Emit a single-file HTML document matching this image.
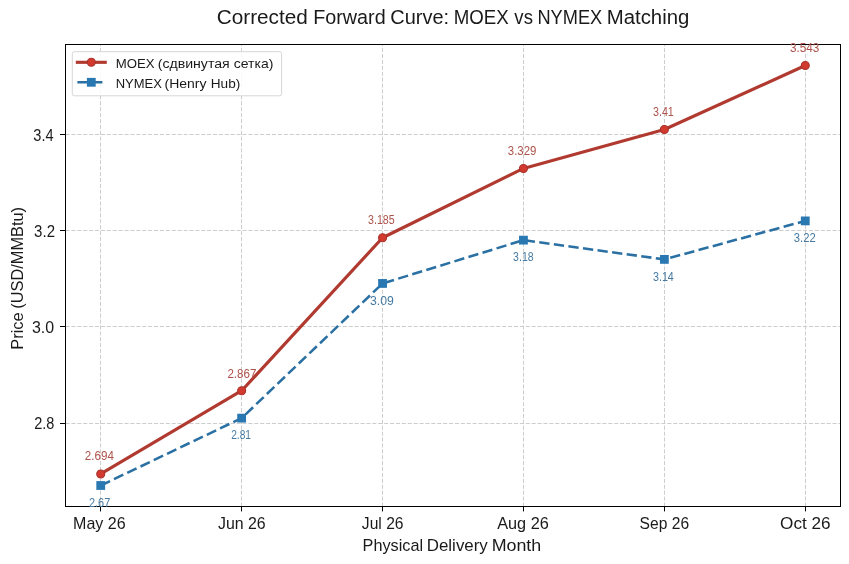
<!DOCTYPE html><html><head><meta charset="utf-8"><style>html,body{margin:0;padding:0;background:#fff;width:849px;height:564px;overflow:hidden}</style></head><body><svg width="849" height="564" viewBox="0 0 849 564" style="display:block">
<rect x="0" y="0" width="849" height="564" fill="#fff"/>
<g class="gfx">
<line x1="100.50" y1="506.5" x2="100.50" y2="44.5" stroke="#cdcdcd" stroke-width="1" stroke-dasharray="4.1 1.8"/>
<line x1="241.50" y1="506.5" x2="241.50" y2="44.5" stroke="#cdcdcd" stroke-width="1" stroke-dasharray="4.1 1.8"/>
<line x1="382.50" y1="506.5" x2="382.50" y2="44.5" stroke="#cdcdcd" stroke-width="1" stroke-dasharray="4.1 1.8"/>
<line x1="523.50" y1="506.5" x2="523.50" y2="44.5" stroke="#cdcdcd" stroke-width="1" stroke-dasharray="4.1 1.8"/>
<line x1="664.50" y1="506.5" x2="664.50" y2="44.5" stroke="#cdcdcd" stroke-width="1" stroke-dasharray="4.1 1.8"/>
<line x1="805.50" y1="506.5" x2="805.50" y2="44.5" stroke="#cdcdcd" stroke-width="1" stroke-dasharray="4.1 1.8"/>
<line x1="65.5" y1="423.50" x2="840.5" y2="423.50" stroke="#cdcdcd" stroke-width="1" stroke-dasharray="4.1 1.8"/>
<line x1="65.5" y1="326.50" x2="840.5" y2="326.50" stroke="#cdcdcd" stroke-width="1" stroke-dasharray="4.1 1.8"/>
<line x1="65.5" y1="230.50" x2="840.5" y2="230.50" stroke="#cdcdcd" stroke-width="1" stroke-dasharray="4.1 1.8"/>
<line x1="65.5" y1="134.50" x2="840.5" y2="134.50" stroke="#cdcdcd" stroke-width="1" stroke-dasharray="4.1 1.8"/>
<polyline points="100.73,485.50 241.64,418.15 382.55,283.44 523.45,240.14 664.36,259.38 805.27,220.90" fill="none" stroke="#2a70a2" stroke-width="2.55" stroke-dasharray="10.3 4.4" stroke-linejoin="round"/>
<rect x="96.33" y="481.10" width="8.8" height="8.8" fill="#2a78b2"/>
<rect x="237.24" y="413.75" width="8.8" height="8.8" fill="#2a78b2"/>
<rect x="378.15" y="279.04" width="8.8" height="8.8" fill="#2a78b2"/>
<rect x="519.05" y="235.74" width="8.8" height="8.8" fill="#2a78b2"/>
<rect x="659.96" y="254.98" width="8.8" height="8.8" fill="#2a78b2"/>
<rect x="800.87" y="216.50" width="8.8" height="8.8" fill="#2a78b2"/>
<polyline points="100.73,473.95 241.64,390.72 382.55,237.73 523.45,168.46 664.36,129.49 805.27,65.50" fill="none" stroke="#b13a30" stroke-width="3.15" stroke-linejoin="round"/>
<circle cx="100.73" cy="473.95" r="4.0" fill="#d33a2f" stroke="#a8322b" stroke-width="1.1"/>
<circle cx="241.64" cy="390.72" r="4.0" fill="#d33a2f" stroke="#a8322b" stroke-width="1.1"/>
<circle cx="382.55" cy="237.73" r="4.0" fill="#d33a2f" stroke="#a8322b" stroke-width="1.1"/>
<circle cx="523.45" cy="168.46" r="4.0" fill="#d33a2f" stroke="#a8322b" stroke-width="1.1"/>
<circle cx="664.36" cy="129.49" r="4.0" fill="#d33a2f" stroke="#a8322b" stroke-width="1.1"/>
<circle cx="805.27" cy="65.50" r="4.0" fill="#d33a2f" stroke="#a8322b" stroke-width="1.1"/>
<rect x="65.5" y="44.5" width="775.0" height="462.0" fill="none" stroke="#000" stroke-width="1"/>
<line x1="100.50" y1="506.5" x2="100.50" y2="511.4" stroke="#000" stroke-width="1"/>
<line x1="241.50" y1="506.5" x2="241.50" y2="511.4" stroke="#000" stroke-width="1"/>
<line x1="382.50" y1="506.5" x2="382.50" y2="511.4" stroke="#000" stroke-width="1"/>
<line x1="523.50" y1="506.5" x2="523.50" y2="511.4" stroke="#000" stroke-width="1"/>
<line x1="664.50" y1="506.5" x2="664.50" y2="511.4" stroke="#000" stroke-width="1"/>
<line x1="805.50" y1="506.5" x2="805.50" y2="511.4" stroke="#000" stroke-width="1"/>
<line x1="60.0" y1="423.50" x2="65.5" y2="423.50" stroke="#000" stroke-width="1"/>
<line x1="60.0" y1="326.50" x2="65.5" y2="326.50" stroke="#000" stroke-width="1"/>
<line x1="60.0" y1="230.50" x2="65.5" y2="230.50" stroke="#000" stroke-width="1"/>
<line x1="60.0" y1="134.50" x2="65.5" y2="134.50" stroke="#000" stroke-width="1"/>
<rect x="72.3" y="51.7" width="209.3" height="44.1" rx="2" ry="2" fill="#fff" fill-opacity="0.85" stroke="#d6d6d6" stroke-width="1"/>
<line x1="75.8" y1="62.3" x2="106.8" y2="62.3" stroke="#b13a30" stroke-width="3.15"/>
<circle cx="91.3" cy="62.3" r="4.0" fill="#d33a2f" stroke="#a8322b" stroke-width="1.1"/>
<line x1="77.4" y1="82.3" x2="102.7" y2="82.3" stroke="#2a70a2" stroke-width="2.55" stroke-dasharray="10.3 4.4"/>
<rect x="86.9" y="77.9" width="8.8" height="8.8" fill="#2a78b2"/>
</g>
<g style="will-change:transform" font-family='"Liberation Sans", sans-serif'>
<text id="am0" class="t" transform="translate(14.047 0) scale(0.8471 1)" x="100.73" y="460.20" font-size="13.7" fill="#ad524a" text-anchor="middle">2.694</text>
<text id="am1" class="t" transform="translate(37.573 0) scale(0.8455 1)" x="241.64" y="378.20" font-size="13.7" fill="#ad524a" text-anchor="middle">2.867</text>
<text id="am2" class="t" transform="translate(83.464 0) scale(0.7788 1)" x="382.55" y="224.10" font-size="13.7" fill="#ad524a" text-anchor="middle">3.185</text>
<text id="am3" class="t" transform="translate(85.900 0) scale(0.8333 1)" x="523.45" y="154.90" font-size="13.7" fill="#ad524a" text-anchor="middle">3.329</text>
<text id="am4" class="t" transform="translate(142.532 0) scale(0.7840 1)" x="664.36" y="116.20" font-size="13.7" fill="#ad524a" text-anchor="middle">3.41</text>
<text id="am5" class="t" transform="translate(114.073 0) scale(0.8576 1)" x="805.27" y="52.20" font-size="13.7" fill="#ad524a" text-anchor="middle">3.543</text>
<text id="an0" class="t" transform="translate(19.000 0) scale(0.8000 1)" x="100.73" y="506.70" font-size="13.7" fill="#467aa2" text-anchor="middle">2.67</text>
<text id="an1" class="t" transform="translate(61.324 0) scale(0.7440 1)" x="241.64" y="439.00" font-size="13.7" fill="#467aa2" text-anchor="middle">2.81</text>
<text id="an2" class="t" transform="translate(39.180 0) scale(0.8960 1)" x="382.55" y="305.00" font-size="13.7" fill="#467aa2" text-anchor="middle">3.09</text>
<text id="an3" class="t" transform="translate(121.352 0) scale(0.7680 1)" x="523.45" y="261.10" font-size="13.7" fill="#467aa2" text-anchor="middle">3.18</text>
<text id="an4" class="t" transform="translate(142.532 0) scale(0.7840 1)" x="664.36" y="281.30" font-size="13.7" fill="#467aa2" text-anchor="middle">3.14</text>
<text id="an5" class="t" transform="translate(144.440 0) scale(0.8200 1)" x="805.27" y="242.20" font-size="13.7" fill="#467aa2" text-anchor="middle">3.22</text>
<text id="yt2.8" class="t" transform="translate(5.050 0) scale(0.8955 1)" x="55.00" y="429.26" font-size="16.2" fill="#1a1a1a" text-anchor="end">2.8</text>
<text id="yt3.0" class="t" transform="translate(-0.025 0) scale(0.9841 1)" x="55.00" y="333.04" font-size="16.2" fill="#1a1a1a" text-anchor="end">3.0</text>
<text id="yt3.2" class="t" transform="translate(3.957 0) scale(0.9286 1)" x="55.00" y="236.82" font-size="16.2" fill="#1a1a1a" text-anchor="end">3.2</text>
<text id="yt3.4" class="t" transform="translate(4.100 0) scale(0.9000 1)" x="55.00" y="140.60" font-size="16.2" fill="#1a1a1a" text-anchor="end">3.4</text>
<text id="xt0" class="t" transform="translate(-0.379 0) scale(0.9904 1)" x="100.73" y="528.90" font-size="16.2" fill="#1a1a1a" text-anchor="middle">May 26</text>
<text id="xt1" class="t" transform="translate(4.217 0) scale(0.9833 1)" x="241.64" y="528.90" font-size="16.2" fill="#1a1a1a" text-anchor="middle">Jun 26</text>
<text id="xt2" class="t" transform="translate(13.493 0) scale(0.9651 1)" x="382.55" y="528.90" font-size="16.2" fill="#1a1a1a" text-anchor="middle">Jul 26</text>
<text id="xt3" class="t" transform="translate(-3.588 0) scale(1.0060 1)" x="523.45" y="528.90" font-size="16.2" fill="#1a1a1a" text-anchor="middle">Aug 26</text>
<text id="xt4" class="t" transform="translate(23.904 0) scale(0.9640 1)" x="664.36" y="528.90" font-size="16.2" fill="#1a1a1a" text-anchor="middle">Sep 26</text>
<text id="xt5" class="t" transform="translate(-47.200 0) scale(1.0587 1)" x="805.27" y="528.90" font-size="16.2" fill="#1a1a1a" text-anchor="middle">Oct 26</text>
<text id="xl0" class="t" transform="translate(-2.459 0) scale(1.0034 1)" x="363.80" y="550.80" font-size="16.2" fill="#1a1a1a" text-anchor="start">Physical</text>
<text id="xl1" class="t" transform="translate(-19.916 0) scale(1.0439 1)" x="427.90" y="550.80" font-size="16.2" fill="#1a1a1a" text-anchor="start">Delivery</text>
<text id="xl2" class="t" transform="translate(-51.649 0) scale(1.1023 1)" x="492.90" y="550.80" font-size="16.2" fill="#1a1a1a" text-anchor="start">Month</text>
<text id="ti0" class="t" transform="translate(-14.614 0) scale(1.0643 1)" x="217.40" y="24.00" font-size="19.5" fill="#1a1a1a" text-anchor="start">Corrected</text>
<text id="ti1" class="t" transform="translate(-5.400 0) scale(1.0143 1)" x="314.10" y="24.00" font-size="19.5" fill="#1a1a1a" text-anchor="start">Forward</text>
<text id="ti2" class="t" transform="translate(-10.589 0) scale(1.0236 1)" x="391.70" y="24.00" font-size="19.5" fill="#1a1a1a" text-anchor="start">Curve:</text>
<text id="ti3" class="t" transform="translate(17.529 0) scale(0.9589 1)" x="454.80" y="24.00" font-size="19.5" fill="#1a1a1a" text-anchor="start">MOEX</text>
<text id="ti4" class="t" transform="translate(24.547 0) scale(0.9526 1)" x="514.20" y="24.00" font-size="19.5" fill="#1a1a1a" text-anchor="start">vs</text>
<text id="ti5" class="t" transform="translate(34.163 0) scale(0.9343 1)" x="538.70" y="24.00" font-size="19.5" fill="#1a1a1a" text-anchor="start">NYMEX</text>
<text id="ti6" class="t" transform="translate(-27.991 0) scale(1.0442 1)" x="607.90" y="24.00" font-size="19.5" fill="#1a1a1a" text-anchor="start">Matching</text>
<text id="lg10" class="t" transform="translate(-3.936 0) scale(1.0236 1)" x="116.85" y="67.70" font-size="12.9" fill="#1a1a1a" text-anchor="start">MOEX</text>
<text id="lg11" class="t" transform="translate(-16.350 0) scale(1.0953 1)" x="158.90" y="67.70" font-size="12.9" fill="#1a1a1a" text-anchor="start">(сдвинутая</text>
<text id="lg12" class="t" transform="translate(-20.250 0) scale(1.0861 1)" x="233.90" y="67.70" font-size="12.9" fill="#1a1a1a" text-anchor="start">сетка)</text>
<text id="lg20" class="t" transform="translate(-2.089 0) scale(1.0080 1)" x="116.85" y="87.60" font-size="12.9" fill="#1a1a1a" text-anchor="start">NYMEX</text>
<text id="lg21" class="t" transform="translate(-14.679 0) scale(1.0842 1)" x="165.30" y="87.60" font-size="12.9" fill="#1a1a1a" text-anchor="start">(Henry</text>
<text id="lg22" class="t" transform="translate(-12.378 0) scale(1.0556 1)" x="211.40" y="87.60" font-size="12.9" fill="#1a1a1a" text-anchor="start">Hub)</text>
<text id="yl0" class="t" transform="translate(23.0 349.711) rotate(-90) scale(1.0114 1)" x="0" y="0" font-size="16.2" fill="#1a1a1a" text-anchor="start">Price</text>
<text id="yl1" class="t" transform="translate(23.0 308.709) rotate(-90) scale(1.0091 1)" x="0" y="0" font-size="16.2" fill="#1a1a1a" text-anchor="start">(USD/MMBtu)</text>
</g>
</svg></body></html>
